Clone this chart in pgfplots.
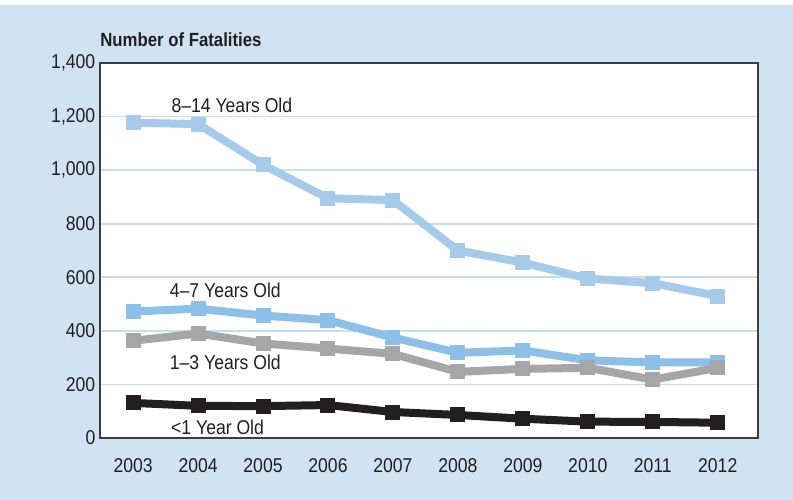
\documentclass[border=0pt]{standalone}
\usepackage{pgfplots}
\pgfplotsset{compat=1.18}
\usepackage{fontspec}
\setmainfont{Liberation Sans}[FakeStretch=0.88]
\definecolor{bg}{RGB}{208,227,243}
\definecolor{gridc}{RGB}{200,222,240}
\definecolor{frame}{RGB}{60,60,62}
\definecolor{txt}{RGB}{35,31,32}
\definecolor{cA}{RGB}{166,203,234}
\definecolor{cB}{RGB}{140,192,233}
\definecolor{cC}{RGB}{166,166,168}
\definecolor{cD}{RGB}{35,31,32}
\begin{document}
\begin{tikzpicture}[x=0.75pt,y=0.75pt]
\useasboundingbox (0,0) rectangle (793,500);
\fill[white] (0,0) rectangle (793,500);
\fill[bg] (0,0) rectangle (793,495);
\node[anchor=west, font=\bfseries\fontsize{14.3}{17}\selectfont, text=txt, inner sep=0] at (100,460) {Number of Fatalities};
\begin{axis}[
  at={(75pt,46.5pt)}, anchor=south west,
  scale only axis, width=493.5pt, height=281.25pt,
  xmin=2002.49, xmax=2012.62, ymin=0, ymax=1400,
  xtick={2003,2004,2005,2006,2007,2008,2009,2010,2011,2012},
  xticklabels={2003,2004,2005,2006,2007,2008,2009,2010,2011,2012},
  ytick={0,200,400,600,800,1000,1200,1400},
  /pgf/number format/assume math mode=true,
  yticklabel style={/pgf/number format/1000 sep={,}, font=\fontsize{15}{18}\selectfont, text=txt},
  xticklabel style={font=\fontsize{15}{18}\selectfont, text=txt, yshift=-12pt},
  major tick length=0pt,
  ymajorgrids, major grid style={gridc, line width=1.2pt},
  axis line style={frame, line width=1.5pt},
  axis background/.style={fill=white},
  clip=false,
  every axis plot/.append style={line width=6pt, mark=square*, mark size=5.25pt, line join=round},
]
\addplot[color=cA, mark options={fill=cA, draw=cA, line width=0pt}] coordinates {
(2003,1177) (2004,1172) (2005,1020) (2006,895) (2007,888) (2008,700) (2009,655) (2010,595) (2011,578) (2012,530)};
\addplot[color=cB, mark options={fill=cB, draw=cB, line width=0pt}] coordinates {
(2003,472) (2004,483) (2005,457) (2006,440) (2007,375) (2008,318) (2009,327) (2010,290) (2011,282) (2012,282)};
\addplot[color=cC, mark options={fill=cC, draw=cC, line width=0pt}] coordinates {
(2003,363) (2004,390) (2005,353) (2006,334) (2007,314) (2008,247) (2009,258) (2010,262) (2011,218) (2012,262)};
\addplot[color=cD, mark options={fill=cD, draw=cD, line width=0pt}] coordinates {
(2003,131) (2004,120) (2005,119) (2006,123) (2007,97) (2008,86) (2009,72) (2010,61) (2011,60) (2012,57)};
\node[font=\fontsize{15}{18}\selectfont, text=txt] at (axis cs:2004.52,1243) {8--14 Years Old};
\node[font=\fontsize{15}{18}\selectfont, text=txt] at (axis cs:2004.42,552) {4--7 Years Old};
\node[font=\fontsize{15}{18}\selectfont, text=txt] at (axis cs:2004.42,284) {1--3 Years Old};
\node[font=\fontsize{15}{18}\selectfont, text=txt] at (axis cs:2004.30,41) {<1 Year Old};
\end{axis}
\end{tikzpicture}
\end{document}
